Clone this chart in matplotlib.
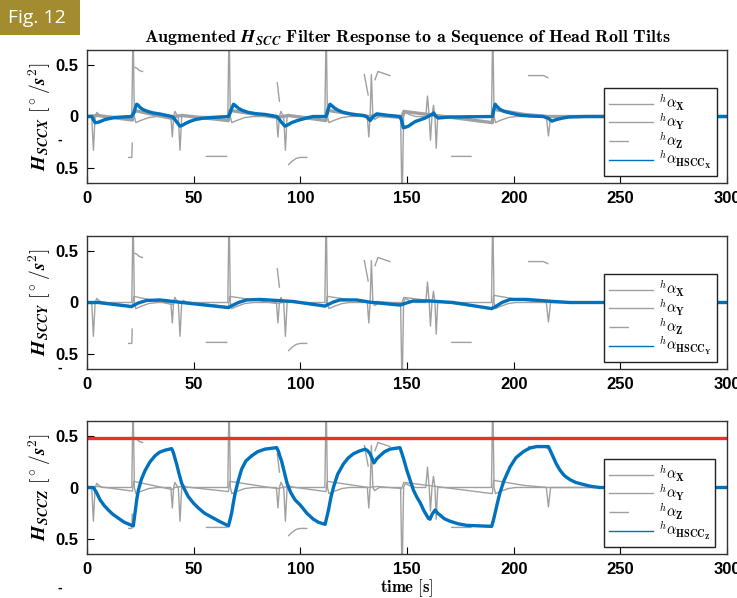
import numpy as np
import matplotlib
matplotlib.use("Agg")
from matplotlib import pyplot as plt
from matplotlib.lines import Line2D
from matplotlib.patches import Rectangle

plt.rcParams['mathtext.fontset'] = 'cm'
plt.rcParams['font.family'] = ['Liberation Sans', 'DejaVu Sans']

# ---- data ----
# head angular acceleration components (same in every panel)
t_ax = [0, 2.2, 3.0, 3.8, 4.6, 5.6, 7,
        21.0, 21.6, 22.2, 22.9, 25, 29, 33,
        39.3, 40.0, 40.6, 41.2, 42.0, 42.8, 43.6, 44.4, 45.2, 47,
        66.0, 66.6, 67.2, 67.9, 70, 74, 78,
        88.8, 89.5, 90.2, 90.9, 91.6, 92.2, 93.0, 93.8, 94.6, 96,
        111.5, 112.1, 112.7, 113.4, 115.5, 119.5, 123,
        131.4, 132.1, 132.7, 133.3, 134.0, 134.8, 137,
        147.0, 147.7, 148.4, 149.2, 151, 154,
        158.8, 159.6, 160.4, 161.0, 161.7, 162.4, 163.1, 163.7, 164.4, 166,
        189.6, 190.2, 190.8, 191.5, 193.5, 197.5, 201,
        215.3, 216.3, 217.3, 300]
alpha_x = [0, 0, -0.33, 0, 0.04, 0.02, 0,
           0, 0.9, 0, -0.06, -0.04, -0.01, 0,
           0, -0.2, 0, 0.05, 0.02, 0, -0.33, 0, 0.02, 0,
           0, 0.9, 0, -0.06, -0.04, -0.01, 0,
           0, -0.2, 0, 0.05, 0.02, 0, -0.33, 0, 0.02, 0,
           0, 0.9, 0, -0.06, -0.04, -0.01, 0,
           0, -0.2, 0, 0.41, 0, -0.03, 0,
           0, -0.9, 0, 0.04, 0.02, 0,
           0, 0.2, 0, -0.23, 0, 0.11, 0, -0.31, 0, 0,
           0, 0.9, 0, -0.06, -0.04, -0.01, 0,
           0, -0.19, 0, 0]

t_ay = [0, 5, 21.3, 21.9, 40, 41, 44.5, 66.3, 66.9, 89, 94.5, 112, 112.6,
        132, 136, 147.5, 148.5, 190, 190.6, 205, 216, 300]
alpha_y = [0, 0.01, -0.035, 0.06, -0.02, 0.0, 0.01, -0.04, 0.06, -0.01, 0.01, -0.04, 0.06,
           0.0, 0.01, -0.01, 0.05, -0.06, 0.07, 0.02, 0.0, 0]

# alpha_z is only visible in short pieces (nan = gap)
t_az = [19.5, 21.0, 21.2, np.nan, 22.5, 23.5, 24.5, 26, np.nan, 56, 65.5, np.nan,
        89.2, 90.2, np.nan, 94.5, 96, 98, 100, 103, np.nan, 130, 131.8, np.nan,
        135, 136.4, 142, np.nan, 171, 180, np.nan, 207, 214, 216]
alpha_z = [-0.40, -0.40, -0.26, np.nan, 0.48, 0.47, 0.45, 0.44, np.nan, -0.39, -0.39, np.nan,
           0.33, 0.15, np.nan, -0.47, -0.44, -0.41, -0.40, -0.40, np.nan, 0.41, 0.21, np.nan,
           0.36, 0.44, 0.40, np.nan, -0.39, -0.39, np.nan, 0.40, 0.40, 0.38]

# filter responses
t_hx = [0, 2.2, 3.0, 3.75, 5, 6.1, 8.4, 13, 20.8, 22.1, 22.7, 23.3, 24.0, 25.0, 26.5, 28.4,
        31, 33.8, 39.8, 40.9, 42.3, 43.6, 44.8, 46, 48, 50.7, 54, 58.5, 66.3, 67.0, 67.6,
        68.7, 69.6, 71, 73, 75.7, 79, 83.5, 89, 89.8, 91.3, 92.8, 94.3, 95.9, 98.5, 102, 106,
        112, 112.6, 113, 113.9, 114.8, 116.2, 118, 120.2, 124, 129.5, 131, 132.7, 134.2,
        135.8, 140.5, 146.7, 147.5, 148.3, 149.3, 150.6, 153.8, 158.5, 161.6, 162.5, 163.4,
        164.6, 170, 190, 190.6, 191.3, 192.3, 193.6, 195.5, 198.3, 203, 208, 213.7, 216,
        217.9, 220, 223, 226, 234, 300]
h_x = [0, 0, -0.03, -0.06, -0.058, -0.05, -0.03, -0.01, 0, 0.04, 0.09, 0.12, 0.11, 0.085,
       0.065, 0.05, 0.035, 0.026, 0, -0.02, -0.06, -0.094, -0.085, -0.07, -0.05, -0.03,
       -0.018, -0.01, 0, 0.03, 0.068, 0.12, 0.105, 0.08, 0.058, 0.04, 0.028, 0.02, 0, -0.02,
       -0.06, -0.094, -0.08, -0.06, -0.04, -0.02, 0,
       0, 0.03, 0.07, 0.12, 0.105, 0.08, 0.058, 0.04, 0.022, 0.01, 0.0, -0.04, 0,
       0.026, 0.013, 0, -0.04, -0.11, -0.105, -0.095, -0.05, -0.015, 0.02, 0.035, 0.005,
       -0.015, -0.005, 0, 0.06, 0.12, 0.095, 0.07, 0.05, 0.035, 0.013, 0.005,
       0, -0.015, -0.045, -0.03, -0.015, -0.005, 0, 0]

t_hy = [0, 5.2, 20.9, 21.7, 24, 28, 34.2, 40.4, 46.7, 66.3, 68, 71, 74.8, 81, 96.6, 111.6,
        113, 115.5, 118.6, 126.4, 132.7, 146.7, 149, 152.8, 160.6, 171.5, 189.7, 191.5,
        194.5, 198.3, 206.1, 218.6, 226.4, 300]
h_y = [0, 0, -0.04, -0.03, -0.005, 0.02, 0.025, 0.01, -0.005, -0.05, -0.03, 0.0, 0.025, 0.03,
       0.01, -0.035, -0.02, 0.005, 0.025, 0.025, 0.003, -0.025, -0.01, 0.015, 0.015, 0.0,
       -0.06, -0.04, 0.0, 0.03, 0.03, 0.01, 0, 0]

t_hz = [0, 3, 4.5, 6.1, 8, 10, 12, 14.7, 17.5, 20.9, 21.7, 22.5, 23.3, 24.1, 25.5, 27.2,
        29.5, 31.9, 34, 36.6, 39.7, 40.5, 41.3, 42, 43.2, 44.4, 46, 47.5, 50, 52.2, 55,
        58.4, 62, 66.3, 67.0, 67.8, 68.6, 69.4, 70.8, 72.5, 74.5, 77.2, 80, 83.4, 88.9,
        89.8, 90.5, 91.2, 92.5, 93.8, 95.5, 97.5, 99.9, 103, 106.1, 108.5, 111.6, 112.3,
        113.2, 114.3, 115.5, 117.5, 120.2, 122.5, 124.9, 127.5, 130.4, 131.5, 132.7, 134.5,
        135.8, 137.3, 139.5, 142, 146.7, 147.5, 148.7, 149.9, 151.5, 153, 154.5, 156.2, 158,
        160, 160.8, 161.8, 163.2, 164.3, 165.5, 167.5, 170.2, 174, 178, 189.7, 190.5, 191.3,
        192.5, 193.6, 195.5, 198.3, 201, 204.5, 207.5, 210.8, 216.3, 217.4, 218.6, 220,
        221.7, 223.8, 226.4, 229, 232.6, 236, 240.4, 300]
h_z = [0, 0, -0.05, -0.12, -0.175, -0.22, -0.26, -0.30, -0.34, -0.37, -0.375, -0.25,
       -0.12, -0.025, 0.08, 0.165, 0.25, 0.31, 0.345, 0.365, 0.38, 0.34, 0.28, 0.23, 0.13,
       0.04, -0.03, -0.09, -0.155, -0.2, -0.25, -0.29, -0.33, -0.375, -0.32, -0.25, -0.15,
       -0.06, 0.06, 0.18, 0.26, 0.31, 0.35, 0.375, 0.39, 0.35, 0.30, 0.26, 0.15, 0.04, -0.05,
       -0.12, -0.17, -0.25, -0.31, -0.34, -0.36, -0.30, -0.22, -0.1, 0.0, 0.13, 0.23, 0.29,
       0.33, 0.355, 0.375, 0.36, 0.33, 0.24, 0.28, 0.31, 0.35, 0.375, 0.39, 0.34, 0.26, 0.17,
       0.07, -0.025, -0.09, -0.15, -0.23, -0.30, -0.31, -0.26, -0.22, -0.25, -0.27, -0.305,
       -0.33, -0.355, -0.37, -0.38, -0.32, -0.25, -0.14, -0.05, 0.07, 0.2, 0.29, 0.35,
       0.385, 0.40, 0.40, 0.35, 0.295, 0.23, 0.17, 0.115, 0.077, 0.05, 0.03, 0.012, 0.0, 0]

z_limit = 0.485

panels = [('X', t_hx, h_x), ('Y', t_hy, h_y), ('Z', t_hz, h_z)]
xticks = [0, 50, 100, 150, 200, 250, 300]
yticks = [-0.5, 0, 0.5]
ytick_labels = ['0.5', '0', '0.5']

# ---- figure ----
W, H = 737, 598
fig = plt.figure(figsize=(W / 100, H / 100), dpi=100)

gray = '#a0a0a0'
blue = '#0072BD'
tops = [50, 236, 421]
for i, (name, t_h, h) in enumerate(panels):
    top = tops[i]
    ax = fig.add_axes([87 / W, (H - top - 133) / H, 640 / W, 133 / H])
    ax.plot(t_ax, alpha_x, color=gray, lw=1.0)
    ax.plot(t_ay, alpha_y, color=gray, lw=2.4 if i == 0 else 1.0)
    ax.plot(t_az, alpha_z, color=gray, lw=1.0)
    ax.plot(t_h, h, color=blue, lw=2.4, solid_joinstyle='round')
    if name == 'Z':
        ax.axhline(z_limit, color='#e8302c', lw=2.4)
    ax.set_xlim(0, 300)
    ax.set_ylim(-0.65, 0.65)
    ax.set_xticks(xticks)
    ax.set_yticks(yticks)
    ax.set_yticklabels(ytick_labels)
    ax.tick_params(direction='in', length=5, width=0.8, labelsize=12, pad=6)
    for lab in ax.get_xticklabels() + ax.get_yticklabels():
        lab.set_fontweight('bold')
    for s in ax.spines.values():
        s.set_linewidth(1.0)
        s.set_color('#333333')
    ax.set_ylabel(r'$\mathbfit{H}_{\mathbfit{SCC' + name + r'}}$ $\mathbf{[^\circ/}\mathbfit{s}^{\mathbf{2}}\mathbf{]}$',
                  fontsize=14, labelpad=2)
    handles = [Line2D([], [], color=gray, lw=1.0),
               Line2D([], [], color=gray, lw=1.0),
               Line2D([], [], color=gray, lw=1.0, dashes=(14, 40)),
               Line2D([], [], color=blue, lw=1.0)]
    labels = [r'$^h\alpha_\mathbf{X}$', r'$^h\alpha_\mathbf{Y}$', r'$^h\alpha_\mathbf{Z}$',
              r'$^h\alpha_{\mathbf{HSCC_' + name + '}}$']
    leg = ax.legend(handles, labels, loc='lower left', bbox_to_anchor=(0.808, 0.05),
                    borderaxespad=0, fontsize=10.5, fancybox=False, framealpha=1,
                    edgecolor='#222222', handlelength=3.0, labelspacing=-0.12,
                    borderpad=0.35, handletextpad=0.4)
    leg.get_frame().set_linewidth(1.0)
    if i == 0:
        ax.set_title(r'$\mathbf{Augmented}\ \mathbfit{H}_{\mathbfit{SCC}}\ \mathbf{Filter\ Response\ to\ a\ Sequence\ of\ Head\ Roll\ Tilts}$',
                     fontsize=13, pad=5)
    if i == 2:
        ax.set_xlabel(r'$\mathbf{time\ [s]}$', fontsize=12, labelpad=0)

# stray minus signs left of the axes
for y in [140, 368, 588]:
    fig.text(60 / W, 1 - y / H, '-', fontsize=10, fontweight='bold', ha='center', va='center')

# figure badge
fig.patches.append(Rectangle((0, 1 - 35 / H), 80 / W, 35 / H, transform=fig.transFigure,
                             facecolor='#a38b2f', edgecolor='none'))
fig.text(8 / W, 1 - 18 / H, 'Fig. 12', color='white', fontsize=14, family='Open Sans',
         ha='left', va='center')

fig.savefig('out.png', dpi=100)
